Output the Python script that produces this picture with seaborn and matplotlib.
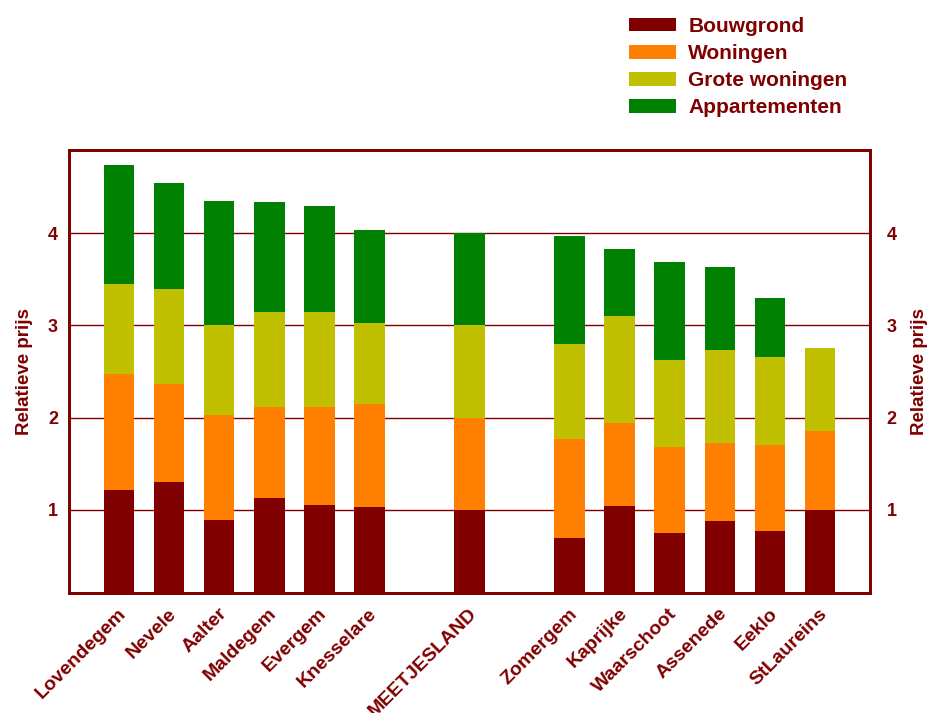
import matplotlib
matplotlib.use("Agg")
import matplotlib.pyplot as plt
import matplotlib.transforms as mtransforms
import seaborn as sns
import pandas as pd
import numpy as np
from matplotlib.patches import Patch

# ---- data ----
gemeenten = ["Lovendegem", "Nevele", "Aalter", "Maldegem", "Evergem", "Knesselare",
             "MEETJESLAND",
             "Zomergem", "Kaprijke", "Waarschoot", "Assenede", "Eeklo", "StLaureins"]
bouwgrond = [1.22, 1.30, 0.89, 1.13, 1.05, 1.03, 1.00, 0.70, 1.04, 0.75, 0.88, 0.77, 1.00]
woningen = [1.25, 1.06, 1.14, 0.99, 1.06, 1.12, 1.00, 1.07, 0.90, 0.93, 0.84, 0.93, 0.85]
grote_woningen = [0.98, 1.03, 0.97, 1.02, 1.03, 0.88, 1.00, 1.03, 1.16, 0.95, 1.01, 0.96, 0.90]
appartementen = [1.29, 1.15, 1.35, 1.20, 1.15, 1.00, 1.00, 1.17, 0.73, 1.06, 0.90, 0.64, np.nan]
series_names = ["Bouwgrond", "Woningen", "Grote woningen", "Appartementen"]
series_colors = ["#800000", "#FF8000", "#C0C000", "#008000"]
order = ["Lovendegem", "Nevele", "Aalter", "Maldegem", "Evergem", "Knesselare", " ",
         "MEETJESLAND", "  ",
         "Zomergem", "Kaprijke", "Waarschoot", "Assenede", "Eeklo", "StLaureins"]
yticks = [1, 2, 3, 4]

dark = "#800000"
plt.rcParams['font.family'] = ['Liberation Sans', 'DejaVu Sans']

vals = np.array([bouwgrond, woningen, grote_woningen, appartementen], dtype=float)
cum = np.nancumsum(vals, axis=0)
cum[np.isnan(vals)] = np.nan

fig = plt.figure(figsize=(9.29, 7.13), dpi=100)
ax = fig.add_axes([69 / 929, 1 - 593 / 713, (870 - 69) / 929, (593 - 150) / 713])

for i in range(3, -1, -1):
    df = pd.DataFrame({"Gemeente": gemeenten, "top": cum[i]}).dropna()
    sns.barplot(data=df, x="Gemeente", y="top", order=order, color=series_colors[i],
                saturation=1, width=0.61, linewidth=0, errorbar=None, ax=ax, zorder=2)

ax.set_xlim(-1.0, 15.0)
ax.set_ylim(0.1, 4.9)
ax.set_yticks(yticks)
ax.set_yticklabels([str(t) for t in yticks])
ax.yaxis.grid(True, color=dark, linewidth=1.0, zorder=0)
ax.set_axisbelow(True)
for s in ax.spines.values():
    s.set_color(dark)
    s.set_linewidth(2)
ax.tick_params(axis='both', length=0, colors=dark)
ax.tick_params(axis='y', pad=8)
for lab in ax.get_yticklabels():
    lab.set_fontweight('bold')
    lab.set_fontsize(13)
    lab.set_color(dark)

ax.set_xticks(range(len(order)))
ax.set_xticklabels(order, rotation=45, ha='right', va='center', rotation_mode='anchor',
                   fontsize=14, fontweight='bold', color=dark)
ax.tick_params(axis='x', pad=13)
offset = mtransforms.ScaledTranslation(5 / 100, 0, fig.dpi_scale_trans)
for lab in ax.get_xticklabels():
    lab.set_transform(lab.get_transform() + offset)
ax.set_xlabel("")
ax.set_ylabel("Relatieve prijs", fontsize=13.5, fontweight='bold', color=dark, labelpad=11)

ax2 = ax.twinx()
ax2.set_ylim(ax.get_ylim())
ax2.set_yticks(yticks)
ax2.set_yticklabels([str(t) for t in yticks], fontsize=13, fontweight='bold', color=dark)
ax2.tick_params(axis='y', length=0, pad=12)
ax2.set_ylabel("Relatieve prijs", fontsize=13.5, fontweight='bold', color=dark, labelpad=10)
for s in ax2.spines.values():
    s.set_color(dark)
    s.set_linewidth(2)

handles = [Patch(facecolor=c, edgecolor='none') for c in series_colors]
leg = fig.legend(handles, series_names, loc='upper left', bbox_to_anchor=(629 / 929, 1 - 17 / 713),
                 frameon=False, handlelength=2.26, handleheight=0.62, handletextpad=0.58,
                 labelspacing=0.39, borderpad=0, borderaxespad=0,
                 prop={'family': 'Liberation Sans', 'weight': 'bold', 'size': 15})
for t in leg.get_texts():
    t.set_color(dark)

fig.savefig("out.png", dpi=100)
